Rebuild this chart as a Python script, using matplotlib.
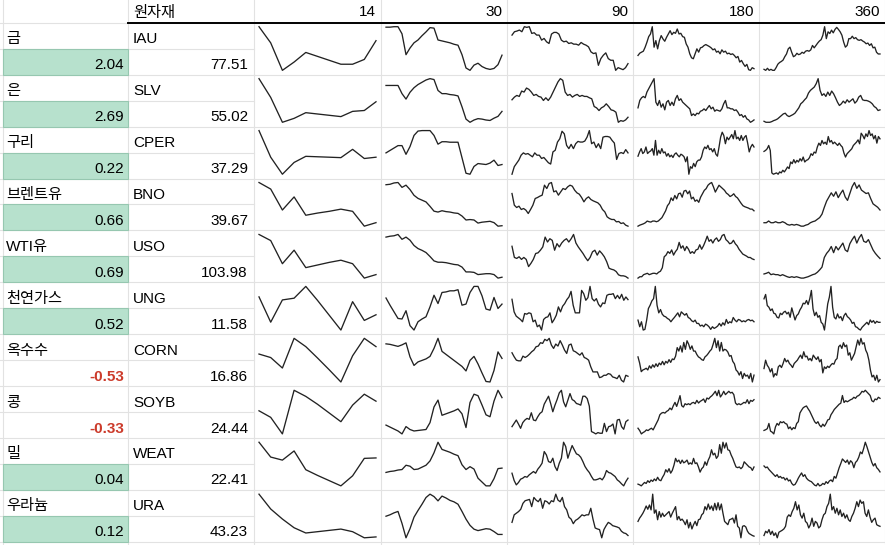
import matplotlib
matplotlib.use('Agg')
import matplotlib.pyplot as plt
from matplotlib.patches import Rectangle

names = ['금', '은', '구리', '브렌트유', 'WTI유', '천연가스', '옥수수', '콩', '밀', '우라늄']
tickers = ['IAU', 'SLV', 'CPER', 'BNO', 'USO', 'UNG', 'CORN', 'SOYB', 'WEAT', 'URA']
changes = [2.04, 2.69, 0.22, 0.66, 0.69, 0.52, -0.53, -0.33, 0.04, 0.12]
prices = ['77.51', '55.02', '37.29', '39.67', '103.98', '11.58', '16.86', '24.44', '22.41', '43.23']
periods = ['14', '30', '90', '180', '360']

# relative price levels (only the shape matters)
spark_14 = [
    [100, 63, 0, 19, 41, 32, 23, 14, 14, 25, 68],
    [100, 57, 0, 9, 22, 19, 16, 13, 25, 27, 47],
    [100, 39, 0, 27, 41, 40, 39, 38, 57, 36, 39],
    [100, 85, 37, 67, 25, 30, 34, 39, 34, 0, 8],
    [100, 86, 33, 64, 24, 30, 36, 41, 33, 0, 8],
    [76, 18, 69, 73, 100, 68, 34, 0, 65, 22, 35],
    [64, 56, 32, 100, 81, 55, 28, 0, 60, 100, 81],
    [53, 38, 0, 100, 86, 68, 48, 28, 66, 91, 75],
    [100, 66, 59, 80, 37, 24, 12, 0, 23, 63, 64],
    [100, 66, 43, 23, 11, 14, 17, 20, 14, 0, 2],
]

spark_30 = [
    [97, 97, 98, 98, 83, 39, 53, 64, 70, 79, 87, 96, 95, 70, 68, 66, 64, 61, 59, 39,
     11, 6, 17, 21, 14, 10, 8, 10, 18, 38],
    [85, 85, 85, 85, 67, 55, 70, 80, 87, 92, 97, 100, 98, 74, 67, 67, 65, 64, 62, 38,
     11, 4, 9, 12, 11, 9, 8, 13, 17, 28],
    [53, 58, 63, 68, 68, 50, 66, 89, 98, 99, 99, 99, 89, 71, 76, 76, 75, 75, 75, 43,
     11, 9, 25, 31, 30, 29, 32, 38, 27, 29],
    [95, 96, 99, 100, 89, 94, 84, 71, 64, 60, 56, 46, 35, 33, 36, 34, 33, 31, 30, 24,
     15, 16, 15, 8, 10, 11, 12, 9, 1, 2],
    [93, 95, 96, 99, 88, 93, 86, 74, 67, 63, 58, 49, 39, 36, 36, 35, 33, 31, 30, 25,
     14, 14, 13, 8, 9, 10, 10, 8, 0, 2],
    [71, 58, 46, 34, 33, 48, 21, 13, 28, 33, 37, 55, 76, 61, 81, 82, 84, 84, 86, 58,
     60, 81, 92, 92, 75, 51, 49, 72, 52, 60],
    [87, 86, 84, 82, 85, 89, 61, 44, 51, 54, 57, 62, 78, 98, 72, 66, 60, 54, 48, 42,
     33, 54, 62, 47, 29, 12, 11, 34, 71, 58],
    [20, 16, 12, 8, 2, 17, 11, 8, 9, 10, 11, 25, 57, 71, 40, 43, 46, 49, 53, 43,
     15, 66, 83, 80, 61, 41, 37, 69, 91, 76],
    [35, 37, 38, 40, 41, 50, 48, 41, 42, 46, 50, 59, 76, 98, 83, 80, 77, 73, 70, 51,
     41, 47, 42, 23, 15, 7, 7, 22, 43, 44],
    [53, 56, 60, 63, 38, 8, 27, 51, 65, 78, 92, 99, 94, 85, 95, 91, 86, 83, 78, 63,
     47, 34, 26, 23, 25, 27, 26, 21, 15, 15],
]

spark_90 = [
    [107, 117, 119, 122, 117, 132, 130, 132, 112, 114, 107, 107, 92, 97, 87, 82, 110, 115,
     115, 110, 92, 87, 89, 82, 84, 80, 80, 77, 85, 80, 77, 72, 57, 52, 54, 17, 37, 47,
     54, 37, 32, 32, 2, 10, 7, 4, 10, 22],
    [69, 77, 82, 79, 95, 92, 104, 100, 92, 82, 85, 79, 77, 67, 75, 67, 77, 92, 107, 122,
     132, 127, 92, 82, 85, 77, 82, 85, 79, 82, 79, 79, 75, 72, 49, 45, 37, 45, 49, 57,
     49, 39, 37, 32, 2, 7, 5, 9, 17],
    [0, 23, 33, 43, 58, 65, 61, 63, 58, 53, 65, 58, 58, 48, 51, 43, 35, 31, 68, 73, 98,
     108, 131, 123, 88, 78, 91, 78, 93, 100, 98, 98, 101, 113, 133, 93, 98, 81, 93, 78,
     113, 115, 115, 113, 103, 95, 45, 63, 66, 63, 75, 65],
    [100, 65, 58, 62, 52, 55, 50, 40, 52, 65, 85, 88, 92, 95, 125, 115, 130, 133, 105,
     108, 95, 105, 115, 112, 120, 125, 122, 110, 102, 98, 88, 75, 85, 90, 82, 78, 75, 72,
     65, 52, 45, 30, 25, 22, 22, 15, 16, 10, 12, 5, 2],
    [97, 63, 60, 65, 57, 63, 57, 35, 45, 57, 75, 77, 85, 95, 125, 110, 120, 115, 85, 105,
     95, 107, 115, 120, 110, 120, 133, 107, 95, 85, 75, 63, 53, 63, 80, 85, 70, 83, 75,
     65, 50, 30, 27, 25, 20, 10, 7, 7, 5, 0],
    [95, 57, 44, 39, 34, 27, 52, 50, 54, 52, 27, 32, 12, 17, 2, 34, 40, 42, 54, 24, 34,
     47, 72, 57, 74, 82, 94, 102, 119, 77, 54, 54, 54, 122, 112, 92, 100, 134, 97, 90,
     97, 80, 72, 84, 82, 107, 110, 110, 112, 97, 107, 97, 110, 92, 102, 94],
    [89, 77, 67, 65, 65, 79, 75, 79, 85, 92, 97, 107, 109, 119, 117, 129, 125, 132, 112,
     102, 115, 109, 125, 112, 97, 87, 112, 115, 95, 92, 87, 82, 89, 75, 72, 67, 47, 32,
     32, 32, 15, 17, 22, 22, 27, 25, 17, 15, 12, 22, 7, 2, 22, 19],
    [23, 33, 43, 31, 18, 35, 43, 48, 45, 65, 43, 41, 53, 63, 68, 91, 103, 115, 93, 68,
     88, 105, 125, 133, 98, 83, 103, 123, 105, 101, 93, 91, 88, 115, 115, 108, 85, 8, 5,
     1, 5, 3, 3, 33, 8, 23, 25, 31, 1, 43, 45, 23, 15, 38, 43],
    [40, 18, 5, 12, 22, 25, 30, 28, 35, 40, 45, 40, 52, 60, 70, 105, 95, 75, 72, 85, 60,
     48, 70, 85, 133, 120, 85, 105, 123, 110, 98, 95, 88, 75, 60, 50, 42, 30, 20, 20, 22,
     25, 20, 30, 48, 42, 40, 35, 30, 20, 15, 8, 2, 15, 25],
    [47, 70, 75, 80, 87, 105, 113, 115, 117, 95, 123, 115, 110, 120, 90, 113, 110, 103,
     113, 110, 133, 115, 110, 123, 95, 85, 63, 57, 43, 53, 57, 63, 70, 67, 70, 70, 90,
     57, 30, 27, 25, 0, 25, 37, 47, 43, 37, 35, 33, 30, 20, 15, 13, 7],
]

spark_180 = [
    [47, 54, 57, 60, 72, 87, 104, 112, 134, 72, 92, 67, 92, 107, 97, 90, 102, 112, 122,
     110, 117, 114, 127, 112, 114, 104, 102, 82, 72, 52, 40, 37, 52, 67, 57, 70, 72, 77,
     80, 77, 74, 70, 64, 67, 57, 60, 52, 64, 57, 60, 52, 54, 50, 52, 47, 40, 44, 27, 32,
     22, 14, 20, 4, 2, 10, 7],
    [45, 67, 75, 79, 75, 92, 102, 112, 122, 132, 62, 52, 67, 47, 57, 39, 62, 67, 52, 62,
     52, 72, 82, 67, 72, 62, 57, 52, 47, 42, 22, 27, 22, 29, 27, 35, 37, 42, 37, 45, 52,
     42, 47, 35, 39, 37, 35, 42, 57, 67, 45, 45, 42, 42, 37, 39, 32, 22, 25, 17, 22, 12,
     9, 2, 5, 9],
    [55, 68, 78, 63, 68, 83, 63, 68, 71, 78, 58, 103, 58, 73, 63, 78, 65, 68, 55, 63, 53,
     58, 51, 61, 65, 58, 53, 61, 58, 53, 38, 53, 0, 23, 18, 33, 23, 38, 43, 43, 53, 73,
     83, 78, 88, 75, 78, 68, 78, 61, 55, 83, 113, 128, 118, 93, 113, 105, 113, 121, 108,
     133, 108, 113, 103, 118, 103, 113, 118, 95, 68, 83, 91, 83],
    [5, 8, 10, 12, 15, 20, 18, 17, 20, 20, 18, 20, 25, 30, 40, 50, 65, 72, 88, 80, 95, 85,
     100, 102, 90, 108, 110, 100, 108, 85, 90, 78, 82, 75, 90, 100, 110, 115, 125, 130,
     133, 120, 105, 115, 125, 120, 115, 110, 102, 98, 92, 95, 100, 92, 88, 80, 72, 65, 62,
     60, 58, 55, 55, 50],
    [3, 7, 7, 13, 15, 17, 13, 15, 17, 17, 15, 20, 23, 33, 65, 70, 80, 75, 85, 70, 80, 87,
     107, 90, 97, 83, 95, 87, 75, 80, 75, 85, 87, 100, 87, 97, 110, 125, 110, 115, 105,
     115, 120, 110, 115, 127, 130, 115, 110, 103, 105, 113, 103, 97, 87, 80, 73, 70, 67,
     63, 63, 59, 57],
    [32, 12, 27, 2, 4, 32, 67, 77, 90, 97, 134, 77, 54, 64, 50, 44, 42, 37, 34, 27, 34,
     40, 47, 54, 42, 57, 52, 47, 52, 40, 37, 30, 27, 32, 22, 22, 14, 17, 12, 20, 17, 12,
     4, 12, 7, 10, 14, 22, 14, 24, 17, 34, 22, 27, 24, 40, 32, 27, 34, 32, 27, 30, 27, 32,
     34, 30, 32, 27],
    [75, 57, 32, 37, 39, 42, 37, 49, 42, 52, 45, 55, 47, 57, 52, 62, 52, 62, 57, 67, 59,
     69, 67, 77, 102, 92, 107, 89, 117, 97, 122, 112, 97, 107, 92, 92, 82, 75, 72, 67, 65,
     75, 79, 85, 92, 97, 112, 129, 102, 122, 92, 117, 92, 97, 95, 89, 77, 79, 62, 55, 37,
     32, 22, 32, 12, 27, 19, 22, 12, 27, 2, 22],
    [18, 11, 1, 5, 8, 13, 11, 15, 18, 13, 23, 33, 43, 58, 63, 65, 63, 68, 71, 78, 73, 85,
     95, 83, 98, 115, 85, 81, 91, 88, 91, 88, 93, 95, 91, 101, 93, 98, 101, 105, 95, 108,
     105, 111, 115, 121, 128, 115, 131, 111, 118, 128, 118, 123, 128, 123, 125, 118, 93,
     88, 91, 88, 91, 95, 93, 103, 91, 101, 98, 103],
    [10, 8, 5, 10, 15, 12, 20, 15, 22, 18, 25, 20, 30, 22, 20, 30, 38, 52, 45, 55, 42, 50,
     65, 85, 75, 80, 70, 80, 72, 75, 80, 68, 72, 68, 85, 70, 72, 60, 45, 55, 60, 75, 65,
     80, 90, 110, 95, 100, 85, 92, 125, 100, 132, 115, 130, 110, 108, 95, 85, 72, 60, 58,
     60, 55, 60, 75, 70, 65, 60, 58, 50, 60],
    [50, 60, 67, 75, 85, 97, 87, 100, 85, 133, 75, 85, 55, 80, 63, 75, 65, 70, 75, 80, 63,
     75, 85, 95, 55, 65, 53, 57, 50, 40, 55, 30, 47, 27, 40, 50, 37, 55, 57, 70, 75, 95,
     85, 103, 87, 97, 83, 105, 85, 107, 85, 103, 75, 50, 45, 40, 55, 57, 60, 45, 70, 35,
     30, 0, 35, 37, 33, 20, 13, 10, 7, 5],
]

spark_360 = [
    [7, 4, 10, 4, 7, 4, 4, 12, 22, 27, 30, 34, 44, 52, 67, 72, 57, 44, 47, 54, 50, 52, 57,
     54, 60, 62, 60, 64, 77, 70, 77, 84, 90, 94, 107, 132, 97, 117, 112, 122, 114, 124,
     130, 124, 117, 107, 87, 72, 77, 97, 97, 104, 97, 100, 94, 92, 94, 90, 87, 82, 84, 77,
     82, 70, 72, 57, 52, 52],
    [5, 2, 2, 2, 4, 7, 9, 12, 17, 22, 27, 29, 22, 19, 22, 25, 29, 37, 45, 57, 62, 69, 75,
     89, 97, 102, 107, 117, 132, 97, 82, 87, 79, 92, 82, 95, 87, 75, 62, 52, 57, 65, 59,
     69, 62, 67, 72, 59, 65, 77, 82, 69, 67, 67, 65, 62, 57, 49, 45, 37, 39],
    [70, 73, 78, 88, 73, 5, 1, 3, 5, 1, 8, 5, 13, 8, 15, 23, 18, 38, 33, 45, 35, 43, 38,
     48, 41, 53, 38, 43, 45, 51, 63, 58, 68, 65, 83, 95, 88, 103, 93, 98, 91, 115, 98,
     103, 93, 98, 93, 88, 95, 88, 83, 65, 53, 63, 68, 73, 78, 88, 93, 98, 105, 93, 125,
     118, 108, 123, 115, 133, 118, 123, 108, 118, 95, 115, 108],
    [15, 15, 20, 15, 15, 18, 15, 15, 18, 15, 10, 8, 10, 8, 10, 8, 5, 5, 8, 10, 15, 18, 20,
     25, 30, 40, 60, 78, 90, 102, 92, 105, 88, 100, 110, 90, 80, 100, 120, 132, 115, 125,
     110, 105, 100, 102, 85, 70, 65, 60, 52],
    [15, 17, 20, 13, 15, 13, 13, 10, 13, 10, 7, 5, 7, 5, 7, 5, 3, 3, 5, 7, 10, 13, 15, 20,
     27, 35, 63, 75, 83, 95, 77, 95, 85, 95, 105, 85, 80, 103, 115, 125, 105, 120, 130,
     110, 107, 115, 100, 85, 75, 67, 60],
    [97, 110, 77, 72, 62, 67, 54, 52, 42, 40, 54, 50, 57, 60, 52, 57, 42, 70, 52, 34, 47,
     52, 64, 72, 84, 82, 92, 80, 97, 122, 67, 47, 57, 42, 47, 27, 22, 4, 42, 82, 102, 134,
     72, 42, 37, 52, 40, 44, 32, 47, 54, 44, 40, 34, 24, 27, 14, 12, 7, 4, 12, 17, 22, 27,
     20, 34, 27, 32, 24, 30, 27, 27],
    [42, 67, 52, 45, 32, 42, 17, 27, 22, 47, 52, 45, 57, 72, 62, 67, 57, 52, 45, 57, 62,
     67, 75, 82, 72, 92, 77, 79, 67, 72, 65, 82, 75, 69, 77, 62, 69, 29, 47, 42, 49, 45,
     52, 57, 55, 67, 72, 107, 112, 102, 119, 107, 112, 82, 89, 67, 77, 87, 107, 127, 112,
     132, 115, 119, 97, 87, 67, 37, 17, 22, 7, 22, 2, 9],
    [13, 15, 18, 33, 11, 8, 3, 23, 33, 28, 38, 35, 38, 33, 31, 18, 23, 15, 21, 18, 33, 38,
     63, 71, 78, 81, 83, 75, 68, 58, 48, 38, 33, 38, 28, 23, 31, 25, 33, 43, 45, 58, 65,
     73, 78, 83, 88, 91, 113, 93, 98, 95, 98, 101, 103, 108, 105, 111, 113, 118, 125, 123,
     128, 123, 118, 113, 98, 95, 103, 101, 108, 105],
    [65, 60, 62, 55, 50, 45, 40, 35, 40, 32, 35, 30, 32, 25, 30, 22, 25, 15, 10, 12, 20,
     30, 38, 45, 35, 40, 30, 25, 22, 20, 15, 10, 8, 15, 8, 10, 15, 12, 20, 15, 22, 25, 20,
     35, 30, 45, 60, 72, 85, 80, 75, 82, 70, 80, 75, 60, 75, 80, 90, 105, 100, 115, 133,
     120, 105, 90, 75, 65, 72, 60, 55, 48],
    [7, 20, 15, 25, 10, 20, 7, 15, 0, 17, 20, 23, 27, 35, 63, 70, 65, 80, 90, 110, 85,
     100, 70, 60, 75, 50, 45, 30, 40, 60, 35, 50, 45, 30, 35, 55, 70, 75, 95, 105, 133,
     85, 95, 75, 90, 70, 85, 65, 75, 60, 70, 55, 50, 65, 75, 90, 110, 95, 115, 105, 110,
     75, 65, 85, 63, 47, 55, 60, 40, 37, 35],
]

W, H = 885, 545
col_x = [2.5, 128, 254, 381, 507, 633, 759, 885]
head_h = 22.7
row_h = 25.97
grid_c = '#e2e2e2'
fonts = ['Liberation Sans', 'Noto Sans CJK KR']

fig = plt.figure(figsize=(W / 100, H / 100), dpi=100)
base = fig.add_axes([0, 0, 1, 1])
base.set_xlim(0, W)
base.set_ylim(H, 0)
base.axis('off')

def row_y(i):
    return head_h + i * row_h

# grid lines
for i in range(21):
    y = row_y(i)
    base.plot([0, col_x[2]], [y, y], color=grid_c, lw=0.8, zorder=2)
    if i % 2 == 0:
        base.plot([col_x[2], W], [y, y], color=grid_c, lw=0.8, zorder=2)
for x in col_x:
    base.plot([x, x], [0, H], color=grid_c, lw=0.8, zorder=2)
base.plot([col_x[1], W], [head_h, head_h], color='black', lw=1.4, zorder=3)

# green cells for positive changes
for k, ch in enumerate(changes):
    if ch > 0:
        y0 = row_y(2 * k + 1)
        base.add_patch(Rectangle((col_x[0], y0), col_x[1] - col_x[0], row_h,
                                 facecolor='#b7e1cd', edgecolor='#96c7b0', lw=0.8,
                                 zorder=2.5))

# header texts
base.text(133, 16.5, '원자재', fontsize=11, family=fonts, va='baseline', ha='left')
for j, p in enumerate(periods):
    base.text(col_x[j + 3] - 5, 16.5, p, fontsize=11, family=fonts,
              va='baseline', ha='right')

# body texts
for k in range(len(names)):
    yb1 = row_y(2 * k + 1) - 5.7
    yb2 = row_y(2 * k + 2) - 5.7
    base.text(6, yb1, names[k], fontsize=11, family=fonts, va='baseline', ha='left')
    base.text(133, yb1, tickers[k], fontsize=11, family=fonts, va='baseline', ha='left')
    ch = changes[k]
    if ch < 0:
        base.text(124, yb2, f'{ch:.2f}', fontsize=11, family=fonts, va='baseline',
                  ha='right', color='#cc3b2b', fontweight='bold', zorder=4)
    else:
        base.text(124, yb2, f'{ch:.2f}', fontsize=11, family=fonts, va='baseline',
                  ha='right', zorder=4)
    base.text(248, yb2, prices[k], fontsize=11, family=fonts, va='baseline', ha='right')

# sparklines
all_sparks = [spark_14, spark_30, spark_90, spark_180, spark_360]
for j, sparks in enumerate(all_sparks):
    left = col_x[j + 2] + 5
    right = col_x[j + 3] - 5
    for k, vals in enumerate(sparks):
        top = row_y(2 * k) + 4
        bottom = row_y(2 * k + 2) - 4.3
        ax = fig.add_axes([left / W, 1 - bottom / H, (right - left) / W, (bottom - top) / H])
        ax.plot(range(len(vals)), vals, color='#222222', lw=0.95, clip_on=False,
                solid_joinstyle='round')
        ax.set_xlim(0, len(vals) - 1)
        ax.set_ylim(min(vals), max(vals))
        ax.axis('off')

fig.savefig('out.png', dpi=100)
